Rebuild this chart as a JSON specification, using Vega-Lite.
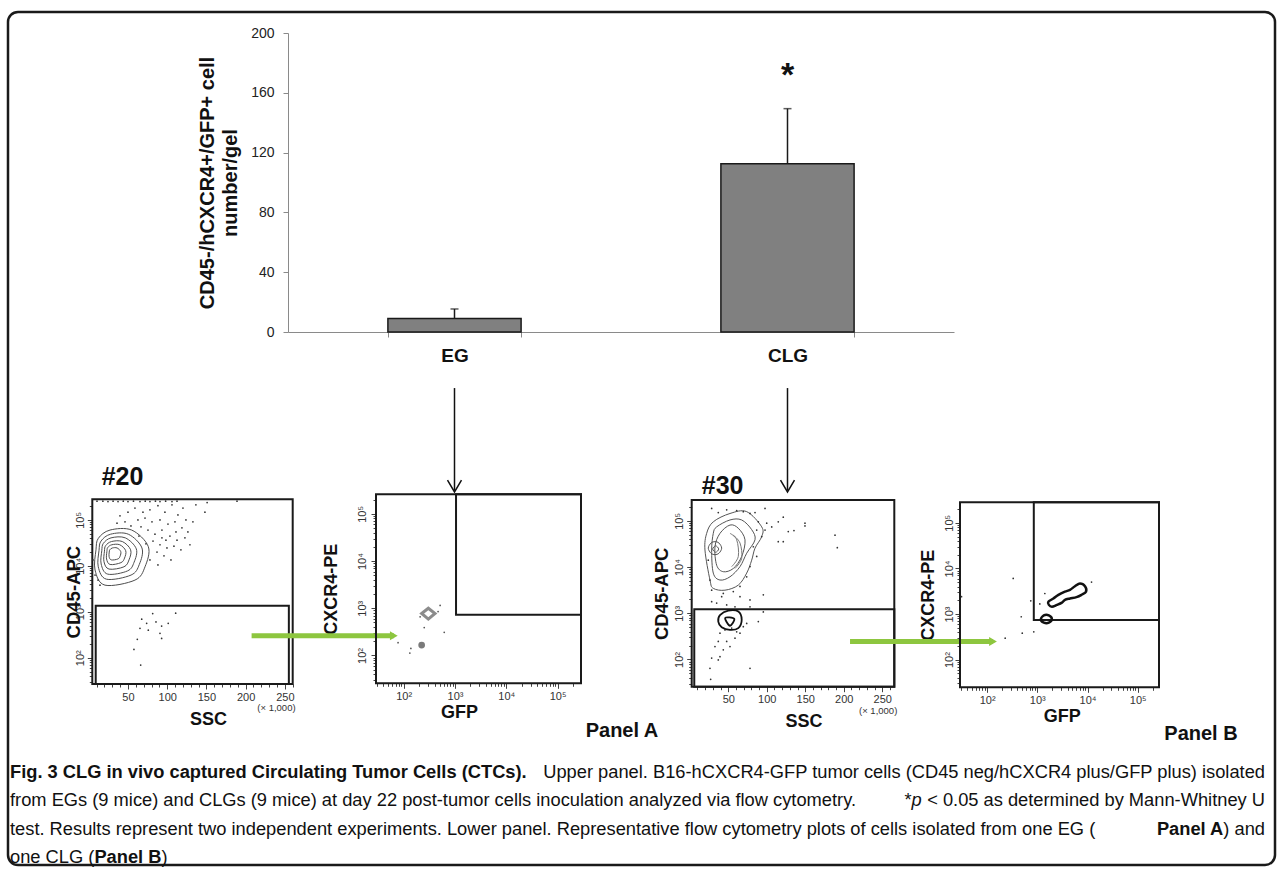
{
"$schema": "https://vega.github.io/schema/vega-lite/v6.json",
"width": 1267, "height": 853,
"padding": {"left": 8, "top": 12, "right": 6, "bottom": 5},
"autosize": "none",
"background": "white",
"config": {
  "view": {"stroke": "#1a1a1a", "strokeWidth": 2.5, "cornerRadius": 10},
  "font": "Liberation Sans",
  "axis": {"labelFont": "Liberation Sans", "titleFont": "Liberation Sans", "grid": false}
},
"datasets": {
  "bars": [{"group": "EG", "mean": 9, "upper": 15.4}, {"group": "CLG", "mean": 112.6, "upper": 149.4}],
  "p1_box": [{"kind": "frame", "x": 4.5, "x2": 260, "y": 1.427, "y2": 5.45}, {"kind": "gate", "x": 8.85, "x2": 255.1, "y": 1.427, "y2": 3.133}],
  "p1_lines": [
    {"id":"c1","i":0,"x":12.2,"y":4.60},{"id":"c1","i":1,"x":27.1,"y":4.78},{"id":"c1","i":2,"x":54.7,"y":4.78},{"id":"c1","i":3,"x":75.9,"y":4.42},{"id":"c1","i":4,"x":71.7,"y":3.98},{"id":"c1","i":5,"x":58.9,"y":3.69},{"id":"c1","i":6,"x":20.7,"y":3.58},{"id":"c1","i":7,"x":8.0,"y":3.91},{"id":"c1","i":8,"x":9.2,"y":4.35},
    {"id":"c2","i":0,"x":15.6,"y":4.54},{"id":"c2","i":1,"x":27.8,"y":4.69},{"id":"c2","i":2,"x":50.4,"y":4.69},{"id":"c2","i":3,"x":67.8,"y":4.39},{"id":"c2","i":4,"x":64.4,"y":4.03},{"id":"c2","i":5,"x":53.9,"y":3.80},{"id":"c2","i":6,"x":22.5,"y":3.71},{"id":"c2","i":7,"x":12.1,"y":3.98},{"id":"c2","i":8,"x":13.1,"y":4.34},
    {"id":"c3","i":0,"x":18.6,"y":4.49},{"id":"c3","i":1,"x":28.4,"y":4.61},{"id":"c3","i":2,"x":46.6,"y":4.61},{"id":"c3","i":3,"x":60.6,"y":4.37},{"id":"c3","i":4,"x":57.8,"y":4.08},{"id":"c3","i":5,"x":49.4,"y":3.89},{"id":"c3","i":6,"x":24.2,"y":3.82},{"id":"c3","i":7,"x":15.8,"y":4.04},{"id":"c3","i":8,"x":16.6,"y":4.33},
    {"id":"c4","i":0,"x":21.5,"y":4.44},{"id":"c4","i":1,"x":29.0,"y":4.53},{"id":"c4","i":2,"x":42.8,"y":4.53},{"id":"c4","i":3,"x":53.4,"y":4.35},{"id":"c4","i":4,"x":51.3,"y":4.13},{"id":"c4","i":5,"x":44.9,"y":3.98},{"id":"c4","i":6,"x":25.8,"y":3.93},{"id":"c4","i":7,"x":19.4,"y":4.09},{"id":"c4","i":8,"x":20.0,"y":4.32},
    {"id":"c5","i":0,"x":24.2,"y":4.40},{"id":"c5","i":1,"x":29.5,"y":4.46},{"id":"c5","i":2,"x":39.5,"y":4.46},{"id":"c5","i":3,"x":47.1,"y":4.33},{"id":"c5","i":4,"x":45.6,"y":4.17},{"id":"c5","i":5,"x":41.0,"y":4.07},{"id":"c5","i":6,"x":27.2,"y":4.03},{"id":"c5","i":7,"x":22.7,"y":4.15},{"id":"c5","i":8,"x":23.1,"y":4.31},
    {"id":"c6","i":0,"x":26.8,"y":4.35},{"id":"c6","i":1,"x":30.1,"y":4.39},{"id":"c6","i":2,"x":36.1,"y":4.39},{"id":"c6","i":3,"x":40.8,"y":4.31},{"id":"c6","i":4,"x":39.9,"y":4.21},{"id":"c6","i":5,"x":37.1,"y":4.15},{"id":"c6","i":6,"x":28.7,"y":4.13},{"id":"c6","i":7,"x":25.9,"y":4.20},{"id":"c6","i":8,"x":26.1,"y":4.30}
  ],
  "p1_dots": [
    {"x":78.0,"y":5.22},{"x":88.2,"y":5.31},{"x":97.1,"y":5.17},{"x":106.1,"y":5.33},{"x":113.7,"y":5.11},{"x":120.1,"y":5.26},{"x":71.7,"y":5.04},{"x":80.6,"y":4.96},{"x":90.8,"y":5.00},{"x":101.0,"y":4.91},{"x":109.9,"y":4.96},{"x":118.8,"y":4.83},{"x":126.4,"y":4.74},{"x":66.6,"y":4.85},{"x":75.5,"y":4.78},{"x":84.4,"y":4.69},{"x":93.3,"y":4.78},{"x":103.5,"y":4.65},{"x":112.5,"y":4.56},{"x":122.6,"y":4.61},{"x":81.9,"y":4.54},{"x":90.8,"y":4.46},{"x":99.7,"y":4.39},{"x":108.6,"y":4.43},{"x":117.5,"y":4.35},{"x":87.0,"y":4.30},{"x":95.9,"y":4.22},{"x":104.8,"y":4.13},{"x":78.0,"y":4.13},{"x":88.2,"y":4.02},{"x":39.8,"y":5.09},{"x":50.0,"y":5.17},{"x":58.9,"y":5.26},{"x":46.2,"y":4.96},{"x":62.7,"y":5.00},{"x":53.8,"y":4.87},{"x":69.1,"y":5.17},{"x":36.0,"y":4.93},{"x":136.6,"y":5.33},{"x":148.1,"y":5.17},{"x":129.0,"y":4.46},{"x":98.4,"y":4.56},{"x":72.9,"y":4.48},{"x":64.0,"y":4.65},{"x":111.2,"y":4.74},{"x":123.9,"y":5.00},{"x":132.8,"y":4.96},{"x":93.3,"y":4.61},
    {"x":10.5,"y":5.41},{"x":18,"y":5.41},{"x":24.5,"y":5.40},{"x":31,"y":5.41},{"x":37.3,"y":5.40},{"x":44,"y":5.41},{"x":50,"y":5.40},{"x":57,"y":5.41},{"x":65.3,"y":5.40},{"x":72,"y":5.41},{"x":78,"y":5.40},{"x":85,"y":5.41},{"x":90.8,"y":5.40},{"x":98,"y":5.41},{"x":106.1,"y":5.40},{"x":112.5,"y":5.41},{"x":150.9,"y":5.38},{"x":189,"y":5.41},
    {"x":8.0,"y":3.80},{"x":11.8,"y":3.69},{"x":5.4,"y":4.13},{"x":14.3,"y":3.58},
    {"x":67.5,"y":2.84},{"x":81.5,"y":2.96},{"x":73.8,"y":2.75},{"x":85.7,"y":2.78},{"x":92.9,"y":2.69},{"x":101.3,"y":2.75},{"x":110.8,"y":2.97},{"x":65.3,"y":2.64},{"x":75.9,"y":2.60},{"x":90.8,"y":2.53},{"x":61.9,"y":2.40},{"x":92.9,"y":2.42},{"x":57.6,"y":2.18},{"x":66.2,"y":1.84}
  ],
  "p2_box": [{"kind": "frame", "x": 1.46, "x2": 5.456, "y": 1.41, "y2": 5.415}, {"kind": "gate", "x": 3.02, "x2": 5.456, "y": 2.86, "y2": 5.415}],
  "p2_lines": [{"id":"d","i":0,"x":2.35,"y":2.89},{"id":"d","i":1,"x":2.48,"y":3.00},{"id":"d","i":2,"x":2.61,"y":2.89},{"id":"d","i":3,"x":2.48,"y":2.77}],
  "p2_blob": [{"x": 2.35, "y": 2.22}],
  "p2_dots": [{"x":2.71,"y":3.06},{"x":2.40,"y":2.59},{"x":2.79,"y":2.49},{"x":2.67,"y":2.93},{"x":2.14,"y":2.15},{"x":2.12,"y":2.05},{"x":1.89,"y":2.27},{"x":2.32,"y":2.82}],
  "p3_box": [{"kind": "frame", "x": 2.47, "x2": 265.6, "y": 1.411, "y2": 5.452}, {"kind": "gate", "x": 5.8, "x2": 265.6, "y": 1.411, "y2": 3.09}],
  "p3_closed": [
    {"id":"c1","i":0,"x":30.5,"y":4.98},{"id":"c1","i":1,"x":52.2,"y":5.16},{"id":"c1","i":2,"x":73.9,"y":5.20},{"id":"c1","i":3,"x":93.4,"y":4.87},{"id":"c1","i":4,"x":93.4,"y":4.66},{"id":"c1","i":5,"x":84.7,"y":4.41},{"id":"c1","i":6,"x":80.4,"y":4.15},{"id":"c1","i":7,"x":73.9,"y":3.87},{"id":"c1","i":8,"x":63.0,"y":3.61},{"id":"c1","i":9,"x":45.7,"y":3.50},{"id":"c1","i":10,"x":30.5,"y":3.54},{"id":"c1","i":11,"x":26.2,"y":3.72},{"id":"c1","i":12,"x":19.7,"y":4.37},{"id":"c1","i":13,"x":21.9,"y":4.73},
    {"id":"c2","i":0,"x":34.9,"y":4.87},{"id":"c2","i":1,"x":52.2,"y":5.02},{"id":"c2","i":2,"x":67.4,"y":5.02},{"id":"c2","i":3,"x":80.4,"y":4.81},{"id":"c2","i":4,"x":84.7,"y":4.59},{"id":"c2","i":5,"x":73.9,"y":4.30},{"id":"c2","i":6,"x":65.2,"y":4.01},{"id":"c2","i":7,"x":52.2,"y":3.79},{"id":"c2","i":8,"x":39.2,"y":3.72},{"id":"c2","i":9,"x":30.5,"y":3.87},{"id":"c2","i":10,"x":28.4,"y":4.37},{"id":"c2","i":11,"x":30.5,"y":4.73},
    {"id":"c3","i":0,"x":39.2,"y":4.73},{"id":"c3","i":1,"x":52.2,"y":4.91},{"id":"c3","i":2,"x":63.0,"y":4.84},{"id":"c3","i":3,"x":71.7,"y":4.59},{"id":"c3","i":4,"x":67.4,"y":4.23},{"id":"c3","i":5,"x":56.5,"y":3.97},{"id":"c3","i":6,"x":43.5,"y":3.90},{"id":"c3","i":7,"x":34.9,"y":4.04},{"id":"c3","i":8,"x":32.7,"y":4.44},
    {"id":"c4","i":0,"x":24.0,"y":4.41},{"id":"c4","i":1,"x":27.5,"y":4.52},{"id":"c4","i":2,"x":32.7,"y":4.55},{"id":"c4","i":3,"x":37.9,"y":4.52},{"id":"c4","i":4,"x":41.4,"y":4.41},{"id":"c4","i":5,"x":37.9,"y":4.30},{"id":"c4","i":6,"x":32.7,"y":4.27},{"id":"c4","i":7,"x":27.5,"y":4.30},
    {"id":"c5","i":0,"x":29.7,"y":4.39},{"id":"c5","i":1,"x":33.6,"y":4.46},{"id":"c5","i":2,"x":37.5,"y":4.39},{"id":"c5","i":3,"x":33.6,"y":4.32}
  ],
  "p3_open": [
    {"id":"sA","i":0,"x":52.2,"y":4.73},{"id":"sA","i":1,"x":60.9,"y":4.59},{"id":"sA","i":2,"x":63.0,"y":4.23},{"id":"sA","i":3,"x":54.4,"y":4.01},
    {"id":"sB","i":0,"x":56.5,"y":4.69},{"id":"sB","i":1,"x":65.2,"y":4.52},{"id":"sB","i":2,"x":67.4,"y":4.19},{"id":"sB","i":3,"x":58.7,"y":3.97}
  ],
  "p3_low": [
    {"id":"lp1","i":0,"x":39.2,"y":2.96},{"id":"lp1","i":1,"x":50.0,"y":3.06},{"id":"lp1","i":2,"x":63.0,"y":3.04},{"id":"lp1","i":3,"x":67.4,"y":2.86},{"id":"lp1","i":4,"x":63.0,"y":2.68},{"id":"lp1","i":5,"x":52.2,"y":2.64},{"id":"lp1","i":6,"x":41.4,"y":2.70},{"id":"lp1","i":7,"x":37.0,"y":2.82},
    {"id":"lp2","i":0,"x":46.0,"y":2.90},{"id":"lp2","i":1,"x":57.7,"y":2.88},{"id":"lp2","i":2,"x":52.2,"y":2.73}
  ],
  "p3_dots": [
    {"x":28.4,"y":5.27},{"x":37.0,"y":5.18},{"x":47.9,"y":5.24},{"x":60.9,"y":5.22},{"x":69.5,"y":5.20},{"x":78.2,"y":5.16},{"x":84.7,"y":5.18},{"x":97.7,"y":5.27},{"x":89.0,"y":4.98},{"x":99.9,"y":4.95},{"x":106.4,"y":4.87},{"x":114.9,"y":4.98},{"x":121.4,"y":5.08},{"x":127.9,"y":4.77},{"x":135.3,"y":4.79},{"x":114.9,"y":4.55},{"x":121.4,"y":4.55},{"x":149.6,"y":4.95},{"x":149.6,"y":4.89},{"x":188.6,"y":4.69},{"x":191.6,"y":4.42},{"x":97.7,"y":4.80},{"x":86.9,"y":4.80},{"x":93.4,"y":4.66},{"x":82.5,"y":4.44},{"x":86.9,"y":4.23},{"x":78.2,"y":4.01},{"x":73.9,"y":3.79},{"x":65.2,"y":3.58},{"x":56.5,"y":3.47},{"x":43.5,"y":3.43},{"x":34.9,"y":3.22},{"x":28.4,"y":3.25},{"x":65.2,"y":3.36},{"x":78.2,"y":3.29},{"x":95.5,"y":3.40},{"x":95.5,"y":3.03},{"x":89.0,"y":2.82},{"x":78.2,"y":3.14},{"x":41.4,"y":3.36},{"x":47.9,"y":3.18},{"x":58.7,"y":3.14},
    {"x":24.0,"y":4.15},{"x":26.2,"y":3.72},{"x":28.4,"y":3.50},
    {"x":39.2,"y":2.57},{"x":45.7,"y":2.64},{"x":54.4,"y":2.68},{"x":60.9,"y":2.60},{"x":37.0,"y":2.39},{"x":47.9,"y":2.39},{"x":58.7,"y":2.46},{"x":32.7,"y":2.28},{"x":43.5,"y":2.21},{"x":52.2,"y":2.28},{"x":39.2,"y":2.06},{"x":28.4,"y":2.03},{"x":37.0,"y":1.99},{"x":26.2,"y":1.81},{"x":78.2,"y":1.81},{"x":27.1,"y":1.57},{"x":65.2,"y":2.57},{"x":69.5,"y":2.71},{"x":73.9,"y":2.78}
  ],
  "p4_box": [{"kind": "frame", "x": 1.46, "x2": 5.424, "y": 1.393, "y2": 5.45}, {"kind": "gate", "x": 2.93, "x2": 5.424, "y": 2.87, "y2": 5.45}],
  "p4_lines": [
    {"id":"e1","i":0,"x":3.22,"y":3.27},{"id":"e1","i":1,"x":3.32,"y":3.34},{"id":"e1","i":2,"x":3.42,"y":3.42},{"id":"e1","i":3,"x":3.55,"y":3.49},{"id":"e1","i":4,"x":3.65,"y":3.53},{"id":"e1","i":5,"x":3.75,"y":3.61},{"id":"e1","i":6,"x":3.85,"y":3.67},{"id":"e1","i":7,"x":3.95,"y":3.61},{"id":"e1","i":8,"x":3.97,"y":3.49},{"id":"e1","i":9,"x":3.88,"y":3.42},{"id":"e1","i":10,"x":3.78,"y":3.37},{"id":"e1","i":11,"x":3.65,"y":3.34},{"id":"e1","i":12,"x":3.55,"y":3.31},{"id":"e1","i":13,"x":3.49,"y":3.25},{"id":"e1","i":14,"x":3.39,"y":3.20},{"id":"e1","i":15,"x":3.29,"y":3.16},{"id":"e1","i":16,"x":3.23,"y":3.20},
    {"id":"e2","i":0,"x":3.07,"y":2.88},{"id":"e2","i":1,"x":3.13,"y":2.97},{"id":"e2","i":2,"x":3.23,"y":2.97},{"id":"e2","i":3,"x":3.29,"y":2.89},{"id":"e2","i":4,"x":3.23,"y":2.81},{"id":"e2","i":5,"x":3.13,"y":2.81}
  ],
  "p4_dots": [{"x":2.52,"y":3.78},{"x":1.49,"y":3.38},{"x":2.87,"y":3.29},{"x":3.05,"y":3.22},{"x":3.15,"y":3.45},{"x":2.68,"y":2.94},{"x":2.70,"y":2.58},{"x":2.93,"y":2.61},{"x":2.36,"y":2.47},{"x":4.08,"y":3.70}],
  "caption": [
    {"line": 1, "side": "L", "part": "l1b", "text": "Fig. 3 CLG in vivo captured Circulating Tumor Cells (CTCs)."},
    {"line": 1, "side": "R", "part": "l1n", "text": "Upper panel. B16-hCXCR4-GFP tumor cells (CD45 neg/hCXCR4 plus/GFP plus) isolated"},
    {"line": 2, "side": "L", "part": "l2a", "text": "from EGs (9 mice) and CLGs (9 mice) at day 22 post-tumor cells inoculation analyzed via flow cytometry."},
    {"line": 2, "side": "R", "part": "l2s", "text": "*"},
    {"line": 2, "side": "R", "part": "l2p", "text": "p"},
    {"line": 2, "side": "R", "part": "l2c", "text": "< 0.05 as determined by Mann-Whitney U"},
    {"line": 3, "side": "L", "part": "l3a", "text": "test. Results represent two independent experiments. Lower panel. Representative flow cytometry plots of cells isolated from one EG ("},
    {"line": 3, "side": "R", "part": "l3b", "text": "Panel A"},
    {"line": 3, "side": "R", "part": "l3c", "text": ") and"},
    {"line": 4, "side": "L", "part": "l4a", "text": "one CLG ("},
    {"line": 4, "side": "L", "part": "l4b", "text": "Panel B"},
    {"line": 4, "side": "L", "part": "l4c", "text": ")"}
  ]
},
"layer": [
  {
    "data": {"name": "bars"},
    "layer": [
      {
        "mark": {"type": "bar", "fill": "#808080", "stroke": "#1a1a1a", "strokeWidth": 1.5},
        "encoding": {
          "x": {"field": "group", "type": "nominal", "sort": null,
            "scale": {"domain": ["EG", "CLG"], "range": [280, 946], "paddingInner": 0.6, "paddingOuter": 0.3},
            "axis": {"orient": "bottom", "offset": -533, "title": null, "tickBand": "extent", "tickSize": 5, "tickColor": "#8a8a8a", "domainColor": "#8a8a8a", "labelAngle": 0, "labelFontSize": 19, "labelFontWeight": "bold", "labelColor": "#111", "labelPadding": 9}},
          "y": {"field": "mean", "type": "quantitative",
            "scale": {"domain": [0, 200], "range": [320, 21], "nice": false},
            "axis": {"orient": "left", "offset": -280, "values": [0, 40, 80, 120, 160, 200], "tickSize": 5, "tickColor": "#8a8a8a", "domainColor": "#8a8a8a", "labelFontSize": 14, "labelColor": "#222", "labelPadding": 9, "labelFlush": false, "title": ["CD45-/hCXCR4+/GFP+ cell", "number/gel"], "titleFontSize": 20, "titleFontWeight": "bold", "titleLineHeight": 23, "titlePadding": 10, "titleColor": "#111"}}
        }
      },
      {"mark": {"type": "rule", "color": "#1a1a1a", "strokeWidth": 1.5},
       "encoding": {"x": {"field": "group", "type": "nominal"}, "y": {"field": "mean", "type": "quantitative"}, "y2": {"field": "upper"}}},
      {"mark": {"type": "tick", "orient": "horizontal", "size": 8, "thickness": 1.5, "color": "#1a1a1a"},
       "encoding": {"x": {"field": "group", "type": "nominal"}, "y": {"field": "upper", "type": "quantitative"}}},
      {"transform": [{"filter": "datum.group === 'CLG'"}],
       "mark": {"type": "text", "text": "*", "fontSize": 34, "fontWeight": "bold", "baseline": "middle", "color": "#111"},
       "encoding": {"x": {"field": "group", "type": "nominal"}, "y": {"datum": 171.5, "type": "quantitative"}}},
      {"mark": {"type": "rule", "color": "#111", "strokeWidth": 1.5},
       "encoding": {"x": {"field": "group", "type": "nominal"}, "y": {"datum": -37.5, "type": "quantitative"}, "y2": {"datum": -106}}},
      {"mark": {"type": "point", "shape": "M-1,-1.7L0,0L1,-1.7", "filled": false, "stroke": "#111", "strokeWidth": 1.5, "size": 196, "opacity": 1},
       "encoding": {"x": {"field": "group", "type": "nominal"}, "y": {"datum": -107, "type": "quantitative"}}}
    ]
  },
  {
    "encoding": {
      "x": {"field": "x", "type": "quantitative", "scale": {"domain": [4.5, 260], "range": [84.3, 284.7], "nice": false, "zero": false},
        "axis": {"orient": "bottom", "offset": -181, "values": [10,20,30,40,50,60,70,80,90,100,110,120,130,140,150,160,170,180,190,200,210,220,230,240,250,260], "labelExpr": "datum.value % 50 === 0 ? datum.label : ''", "tickSize": {"condition": {"test": "datum.value % 50 === 0", "value": 5}, "value": 3}, "tickColor": "#444", "domain": false, "labelFontSize": 11, "labelColor": "#333", "labelPadding": 2, "labelOverlap": false, "labelFlush": false, "title": "SSC", "titleFontSize": 18, "titleFontWeight": "bold", "titleColor": "#111", "titlePadding": 8, "titleX": 200}},
      "y": {"field": "y", "type": "quantitative", "scale": {"domain": [1.427, 5.45], "range": [672, 487.3], "nice": false, "zero": false},
        "axis": {"orient": "left", "offset": -84.3, "values": [1.4771,1.6021,1.699,1.7782,1.8451,1.9031,1.9542,2,2.301,2.4771,2.6021,2.699,2.7782,2.8451,2.9031,2.9542,3,3.301,3.4771,3.6021,3.699,3.7782,3.8451,3.9031,3.9542,4,4.301,4.4771,4.6021,4.699,4.7782,4.8451,4.9031,4.9542,5,5.301], "labelExpr": "datum.value === 2 ? '10²' : datum.value === 3 ? '10³' : datum.value === 4 ? '10⁴' : datum.value === 5 ? '10⁵' : ''", "labelAngle": -90, "tickSize": {"condition": {"test": "datum.value % 1 === 0", "value": 5}, "value": 3}, "tickColor": "#444", "domain": false, "labelFontSize": 11, "labelColor": "#333", "labelPadding": 2, "labelOverlap": false, "labelFlush": false, "title": "CD45-APC", "titleFontSize": 18.5, "titleFontWeight": "bold", "titleColor": "#111", "titlePadding": -9}}
    },
    "layer": [
      {"data": {"name": "p1_box"}, "mark": {"type": "rect", "fill": "transparent", "stroke": "#1a1a1a", "strokeWidth": 2}, "encoding": {"x2": {"field": "x2"}, "y2": {"field": "y2"}}},
      {"data": {"name": "p1_lines"}, "mark": {"type": "line", "interpolate": "cardinal-closed", "color": "#4d4d4d", "strokeWidth": 1}, "encoding": {"detail": {"field": "id", "type": "nominal"}, "order": {"field": "i", "type": "quantitative"}}},
      {"data": {"name": "p1_dots"}, "mark": {"type": "point", "filled": true, "size": 3, "color": "#333", "opacity": 1}},
      {"data": {"values": [{"x": 16.5, "y": 5.926, "t": "#20"}]}, "mark": {"type": "text", "align": "left", "baseline": "middle", "fontSize": 25, "fontWeight": "bold", "color": "#111"}, "encoding": {"text": {"field": "t"}}},
      {"data": {"values": [{"x": 263.7, "y": 0.9, "t": "(× 1,000)"}]}, "mark": {"type": "text", "align": "right", "baseline": "middle", "fontSize": 9.5, "color": "#333"}, "encoding": {"text": {"field": "t"}}},
      {"data": {"values": [{"x": 207.6, "x2": 388.9, "y": 2.48}]}, "mark": {"type": "rule", "color": "#8dc63f", "strokeWidth": 5}, "encoding": {"x2": {"field": "x2"}}},
      {"data": {"values": [{"x": 207.6, "x2": 388.9, "y": 2.48}]}, "mark": {"type": "point", "shape": "triangle-right", "filled": true, "size": 80, "color": "#8dc63f", "opacity": 1}, "encoding": {"x": {"field": "x2", "type": "quantitative"}}}
    ]
  },
  {
    "encoding": {
      "x": {"field": "x", "type": "quantitative", "scale": {"domain": [1.46, 5.456], "range": [368, 573], "nice": false, "zero": false},
        "axis": {"orient": "bottom", "offset": -181.7, "values": [1.4771,1.6021,1.699,1.7782,1.8451,1.9031,1.9542,2,2.301,2.4771,2.6021,2.699,2.7782,2.8451,2.9031,2.9542,3,3.301,3.4771,3.6021,3.699,3.7782,3.8451,3.9031,3.9542,4,4.301,4.4771,4.6021,4.699,4.7782,4.8451,4.9031,4.9542,5,5.301], "labelExpr": "datum.value === 2 ? '10²' : datum.value === 3 ? '10³' : datum.value === 4 ? '10⁴' : datum.value === 5 ? '10⁵' : ''", "tickSize": {"condition": {"test": "datum.value % 1 === 0", "value": 5}, "value": 3}, "tickColor": "#444", "domain": false, "labelFontSize": 11, "labelColor": "#333", "labelPadding": 2, "labelOverlap": false, "labelFlush": false, "title": "GFP", "titleFontSize": 18, "titleFontWeight": "bold", "titleColor": "#111", "titlePadding": 2, "titleX": 451}},
      "y": {"field": "y", "type": "quantitative", "scale": {"domain": [1.41, 5.415], "range": [671.3, 482.3], "nice": false, "zero": false},
        "axis": {"orient": "left", "offset": -368, "values": [1.4771,1.6021,1.699,1.7782,1.8451,1.9031,1.9542,2,2.301,2.4771,2.6021,2.699,2.7782,2.8451,2.9031,2.9542,3,3.301,3.4771,3.6021,3.699,3.7782,3.8451,3.9031,3.9542,4,4.301,4.4771,4.6021,4.699,4.7782,4.8451,4.9031,4.9542,5,5.301], "labelExpr": "datum.value === 2 ? '10²' : datum.value === 3 ? '10³' : datum.value === 4 ? '10⁴' : datum.value === 5 ? '10⁵' : ''", "labelAngle": -90, "tickSize": {"condition": {"test": "datum.value % 1 === 0", "value": 5}, "value": 3}, "tickColor": "#444", "domain": false, "labelFontSize": 11, "labelColor": "#333", "labelPadding": 4, "labelOverlap": false, "labelFlush": false, "title": "CXCR4-PE", "titleFontSize": 18, "titleFontWeight": "bold", "titleColor": "#111", "titlePadding": 16}}
    },
    "layer": [
      {"data": {"name": "p2_box"}, "mark": {"type": "rect", "fill": "transparent", "stroke": "#1a1a1a", "strokeWidth": 2}, "encoding": {"x2": {"field": "x2"}, "y2": {"field": "y2"}}},
      {"data": {"name": "p2_lines"}, "mark": {"type": "line", "interpolate": "linear-closed", "color": "#8c8c8c", "strokeWidth": 3}, "encoding": {"detail": {"field": "id", "type": "nominal"}, "order": {"field": "i", "type": "quantitative"}}},
      {"data": {"name": "p2_blob"}, "mark": {"type": "point", "filled": true, "size": 45, "color": "#7a7a7a", "opacity": 1}},
      {"data": {"name": "p2_dots"}, "mark": {"type": "point", "filled": true, "size": 3, "color": "#555", "opacity": 1}},
      {"data": {"values": [{"x": 6.255, "y": 0.40, "t": "Panel A"}]}, "mark": {"type": "text", "align": "center", "baseline": "middle", "fontSize": 20, "fontWeight": "bold", "color": "#111"}, "encoding": {"text": {"field": "t"}}}
    ]
  },
  {
    "encoding": {
      "x": {"field": "x", "type": "quantitative", "scale": {"domain": [2.47, 265.6], "range": [683.7, 886.3], "nice": false, "zero": false},
        "axis": {"orient": "bottom", "offset": -178.3, "values": [10,20,30,40,50,60,70,80,90,100,110,120,130,140,150,160,170,180,190,200,210,220,230,240,250,260], "labelExpr": "datum.value % 50 === 0 ? datum.label : ''", "tickSize": {"condition": {"test": "datum.value % 50 === 0", "value": 5}, "value": 3}, "tickColor": "#444", "domain": false, "labelFontSize": 11, "labelColor": "#333", "labelPadding": 2, "labelOverlap": false, "labelFlush": false, "title": "SSC", "titleFontSize": 18, "titleFontWeight": "bold", "titleColor": "#111", "titlePadding": 8, "titleX": 795.5}},
      "y": {"field": "y", "type": "quantitative", "scale": {"domain": [1.411, 5.452], "range": [674.7, 488], "nice": false, "zero": false},
        "axis": {"orient": "left", "offset": -683.7, "values": [1.4771,1.6021,1.699,1.7782,1.8451,1.9031,1.9542,2,2.301,2.4771,2.6021,2.699,2.7782,2.8451,2.9031,2.9542,3,3.301,3.4771,3.6021,3.699,3.7782,3.8451,3.9031,3.9542,4,4.301,4.4771,4.6021,4.699,4.7782,4.8451,4.9031,4.9542,5,5.301], "labelExpr": "datum.value === 2 ? '10²' : datum.value === 3 ? '10³' : datum.value === 4 ? '10⁴' : datum.value === 5 ? '10⁵' : ''", "labelAngle": -90, "tickSize": {"condition": {"test": "datum.value % 1 === 0", "value": 5}, "value": 3}, "tickColor": "#444", "domain": false, "labelFontSize": 11, "labelColor": "#333", "labelPadding": 2, "labelOverlap": false, "labelFlush": false, "title": "CD45-APC", "titleFontSize": 18.5, "titleFontWeight": "bold", "titleColor": "#111", "titlePadding": 2}}
    },
    "layer": [
      {"data": {"name": "p3_box"}, "mark": {"type": "rect", "fill": "transparent", "stroke": "#1a1a1a", "strokeWidth": 2}, "encoding": {"x2": {"field": "x2"}, "y2": {"field": "y2"}}},
      {"data": {"name": "p3_closed"}, "mark": {"type": "line", "interpolate": "cardinal-closed", "color": "#555", "strokeWidth": 1}, "encoding": {"detail": {"field": "id", "type": "nominal"}, "order": {"field": "i", "type": "quantitative"}}},
      {"data": {"name": "p3_open"}, "mark": {"type": "line", "interpolate": "cardinal", "color": "#777", "strokeWidth": 1}, "encoding": {"detail": {"field": "id", "type": "nominal"}, "order": {"field": "i", "type": "quantitative"}}},
      {"data": {"name": "p3_low"}, "mark": {"type": "line", "interpolate": "cardinal-closed", "color": "#111", "strokeWidth": 1.8}, "encoding": {"detail": {"field": "id", "type": "nominal"}, "order": {"field": "i", "type": "quantitative"}}},
      {"data": {"name": "p3_dots"}, "mark": {"type": "point", "filled": true, "size": 3, "color": "#333", "opacity": 1}},
      {"data": {"values": [{"x": 15.5, "y": 5.745, "t": "#30"}]}, "mark": {"type": "text", "align": "left", "baseline": "middle", "fontSize": 25, "fontWeight": "bold", "color": "#111"}, "encoding": {"text": {"field": "t"}}},
      {"data": {"values": [{"x": 269.5, "y": 0.892, "t": "(× 1,000)"}]}, "mark": {"type": "text", "align": "right", "baseline": "middle", "fontSize": 9.5, "color": "#333"}, "encoding": {"text": {"field": "t"}}},
      {"data": {"values": [{"x": 208.1, "x2": 393.8, "y": 2.39}]}, "mark": {"type": "rule", "color": "#8dc63f", "strokeWidth": 5}, "encoding": {"x2": {"field": "x2"}}},
      {"data": {"values": [{"x": 208.1, "x2": 393.8, "y": 2.39}]}, "mark": {"type": "point", "shape": "triangle-right", "filled": true, "size": 80, "color": "#8dc63f", "opacity": 1}, "encoding": {"x": {"field": "x2", "type": "quantitative"}}}
    ]
  },
  {
    "encoding": {
      "x": {"field": "x", "type": "quantitative", "scale": {"domain": [1.46, 5.424], "range": [952, 1151], "nice": false, "zero": false},
        "axis": {"orient": "bottom", "offset": -177.7, "values": [1.4771,1.6021,1.699,1.7782,1.8451,1.9031,1.9542,2,2.301,2.4771,2.6021,2.699,2.7782,2.8451,2.9031,2.9542,3,3.301,3.4771,3.6021,3.699,3.7782,3.8451,3.9031,3.9542,4,4.301,4.4771,4.6021,4.699,4.7782,4.8451,4.9031,4.9542,5,5.301], "labelExpr": "datum.value === 2 ? '10²' : datum.value === 3 ? '10³' : datum.value === 4 ? '10⁴' : datum.value === 5 ? '10⁵' : ''", "tickSize": {"condition": {"test": "datum.value % 1 === 0", "value": 5}, "value": 3}, "tickColor": "#444", "domain": false, "labelFontSize": 11, "labelColor": "#333", "labelPadding": 2, "labelOverlap": false, "labelFlush": false, "title": "GFP", "titleFontSize": 18, "titleFontWeight": "bold", "titleColor": "#111", "titlePadding": 2, "titleX": 1053.7}},
      "y": {"field": "y", "type": "quantitative", "scale": {"domain": [1.393, 5.45], "range": [675.3, 490.3], "nice": false, "zero": false},
        "axis": {"orient": "left", "offset": -952, "values": [1.4771,1.6021,1.699,1.7782,1.8451,1.9031,1.9542,2,2.301,2.4771,2.6021,2.699,2.7782,2.8451,2.9031,2.9542,3,3.301,3.4771,3.6021,3.699,3.7782,3.8451,3.9031,3.9542,4,4.301,4.4771,4.6021,4.699,4.7782,4.8451,4.9031,4.9542,5,5.301], "labelExpr": "datum.value === 2 ? '10²' : datum.value === 3 ? '10³' : datum.value === 4 ? '10⁴' : datum.value === 5 ? '10⁵' : ''", "labelAngle": -90, "tickSize": {"condition": {"test": "datum.value % 1 === 0", "value": 5}, "value": 3}, "tickColor": "#444", "domain": false, "labelFontSize": 11, "labelColor": "#333", "labelPadding": 1, "labelOverlap": false, "labelFlush": false, "title": "CXCR4-PE", "titleFontSize": 18, "titleFontWeight": "bold", "titleColor": "#111", "titlePadding": 6}}
    },
    "layer": [
      {"data": {"name": "p4_box"}, "mark": {"type": "rect", "fill": "transparent", "stroke": "#1a1a1a", "strokeWidth": 2}, "encoding": {"x2": {"field": "x2"}, "y2": {"field": "y2"}}},
      {"data": {"name": "p4_lines"}, "mark": {"type": "line", "interpolate": "cardinal-closed", "color": "#111", "strokeWidth": 2.5}, "encoding": {"detail": {"field": "id", "type": "nominal"}, "order": {"field": "i", "type": "quantitative"}}},
      {"data": {"name": "p4_dots"}, "mark": {"type": "point", "filled": true, "size": 3, "color": "#333", "opacity": 1}},
      {"data": {"values": [{"x": 6.26, "y": 0.37, "t": "Panel B"}]}, "mark": {"type": "text", "align": "center", "baseline": "middle", "fontSize": 20, "fontWeight": "bold", "color": "#111"}, "encoding": {"text": {"field": "t"}}}
    ]
  },
  {
    "data": {"name": "caption"},
    "encoding": {
      "x": {"field": "side", "type": "nominal", "scale": {"type": "point", "domain": ["L", "R"], "range": [2, 1257], "padding": 0}, "axis": null},
      "y": {"field": "line", "type": "ordinal", "scale": {"type": "point", "domain": [1, 2, 3, 4], "range": [761, 846], "padding": 0}, "axis": null},
      "text": {"field": "text"}
    },
    "layer": [
      {"transform": [{"filter": "indexof(['l2a','l3a','l4a'], datum.part) >= 0"}], "mark": {"type": "text", "align": "left", "baseline": "middle", "font": "Liberation Sans", "fontSize": 18.3, "color": "#111"}},
      {"transform": [{"filter": "indexof(['l1n','l2c','l3c'], datum.part) >= 0"}], "mark": {"type": "text", "align": "right", "baseline": "middle", "font": "Liberation Sans", "fontSize": 18.3, "color": "#111"}},
      {"transform": [{"filter": "datum.part === 'l1b'"}], "mark": {"type": "text", "align": "left", "baseline": "middle", "font": "Liberation Sans", "fontSize": 18.3, "fontWeight": "bold", "color": "#111"}},
      {"transform": [{"filter": "datum.part === 'l3b'"}], "mark": {"type": "text", "align": "right", "baseline": "middle", "dx": -41.7, "font": "Liberation Sans", "fontSize": 18.3, "fontWeight": "bold", "color": "#111"}},
      {"transform": [{"filter": "datum.part === 'l2s'"}], "mark": {"type": "text", "align": "right", "baseline": "middle", "dx": -353.4, "font": "Liberation Sans", "fontSize": 18.3, "color": "#111"}},
      {"transform": [{"filter": "datum.part === 'l2p'"}], "mark": {"type": "text", "align": "right", "baseline": "middle", "dx": -343.3, "font": "Liberation Sans", "fontSize": 18.3, "fontStyle": "italic", "color": "#111"}},
      {"transform": [{"filter": "datum.part === 'l4b'"}], "mark": {"type": "text", "align": "left", "baseline": "middle", "dx": 84.4, "font": "Liberation Sans", "fontSize": 18.3, "fontWeight": "bold", "color": "#111"}},
      {"transform": [{"filter": "datum.part === 'l4c'"}], "mark": {"type": "text", "align": "left", "baseline": "middle", "dx": 151.5, "font": "Liberation Sans", "fontSize": 18.3, "color": "#111"}}
    ]
  }
],
"resolve": {"scale": {"x": "independent", "y": "independent"}, "axis": {"x": "independent", "y": "independent"}}
}
